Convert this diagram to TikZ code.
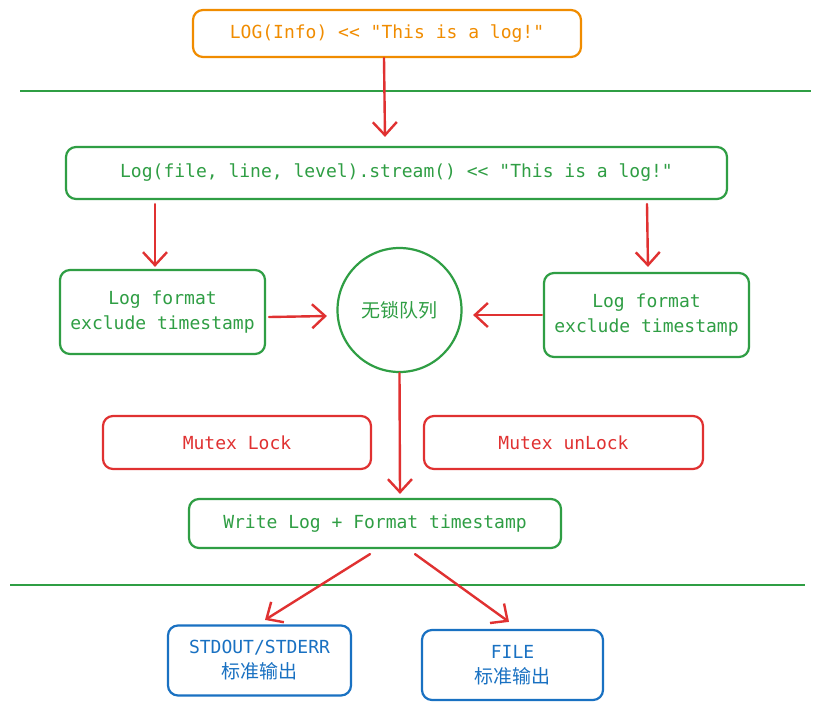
\documentclass[tikz,border=0pt]{standalone}
\usepackage{fontspec}
\setmonofont{DejaVu Sans Mono}
\newfontfamily\cjk{Noto Sans CJK SC}
\usetikzlibrary{arrows.meta}
\definecolor{cOrange}{HTML}{F08C00}
\definecolor{cGreen}{HTML}{2F9E44}
\definecolor{cRed}{HTML}{E03131}
\definecolor{cBlue}{HTML}{1971C2}
\tikzset{
  box/.style={draw, rounded corners=10pt, line width=2.2pt, align=center,
    font=\fontsize{18}{25}\selectfont\ttfamily, inner sep=0pt},
  gbox/.style={box, draw=cGreen, text=cGreen},
  rbox/.style={box, draw=cRed, text=cRed},
  bbox/.style={box, draw=cBlue, text=cBlue},
  obox/.style={box, draw=cOrange, text=cOrange},
  arr/.style={draw=cRed, line width=2.4pt, line cap=round,
    -{Straight Barb[length=13pt,width=24pt,line width=2.4pt]}},
  sep/.style={draw=cGreen, line width=2.4pt},
}
\begin{document}
\begin{tikzpicture}[x=1pt,y=-1pt]
\useasboundingbox (0,0) rectangle (822,710);
\fill[white] (0,0) rectangle (822,710);

\node[obox, minimum width=388pt, minimum height=47pt] (top) at (387,33.5) {LOG(Info) << "This is a log!"};
\draw[sep] (20,91) -- (811,91);
\node[gbox, minimum width=661pt, minimum height=52pt] (log) at (396.5,173) {Log(file, line, level).stream() << "This is a log!"};

\node[gbox, minimum width=205pt, minimum height=84pt] (lfmt) at (162.5,312) {Log format\\exclude timestamp};
\node[gbox, minimum width=205pt, minimum height=84pt] (rfmt) at (646.5,315) {Log format\\exclude timestamp};
\node[draw=cGreen, text=cGreen, line width=2.2pt, circle, minimum size=124pt, inner sep=0pt,
      font=\fontsize{19}{22}\selectfont\cjk] (queue) at (399.5,310) {无锁队列};

\node[rbox, minimum width=268pt, minimum height=53pt] (lock) at (237,442.5) {Mutex Lock};
\node[rbox, minimum width=279pt, minimum height=53pt] (unlock) at (563.5,442.5) {Mutex unLock};

\node[gbox, minimum width=372pt, minimum height=49pt] (write) at (375,523.5) {Write Log + Format timestamp};
\draw[sep] (10,585) -- (805,585);

\node[bbox, minimum width=183pt, minimum height=70pt] (out) at (259.5,660.5) {STDOUT/STDERR\\{\cjk\fontsize{19}{25}\selectfont 标准输出}};
\node[bbox, minimum width=181pt, minimum height=70pt] (file) at (512.5,665) {FILE\\{\cjk\fontsize{19}{25}\selectfont 标准输出}};

% connectors
\draw[arr] ([xshift=-3pt]top.south) -- ([xshift=-11.5pt,yshift=9pt]log.north);
\draw[arr] ([xshift=-7.5pt,yshift=-4pt]lfmt.north |- log.south) -- ([xshift=-7.5pt,yshift=2pt]lfmt.north);
\draw[arr] ([xshift=0.5pt,yshift=-4pt]rfmt.north |- log.south) -- ([xshift=1.5pt,yshift=5pt]rfmt.north);
\draw[arr] ([xshift=3pt,yshift=-5pt]lfmt.east) -- ([xshift=-9.5pt,yshift=-6pt]queue.west);
\draw[arr] ([xshift=-1pt,yshift=0pt]rfmt.west) -- ([xshift=10.5pt,yshift=-5pt]queue.east);
\draw[arr] (queue.south) -- ([xshift=25pt,yshift=4pt]write.north);
\draw[arr] ([xshift=-5pt,yshift=-5pt]write.south) -- ([xshift=5.5pt,yshift=4.5pt]out.north);
\draw[arr] ([xshift=40pt,yshift=-5pt]write.south) -- ([xshift=-3.5pt,yshift=7pt]file.north);
\end{tikzpicture}
\end{document}
